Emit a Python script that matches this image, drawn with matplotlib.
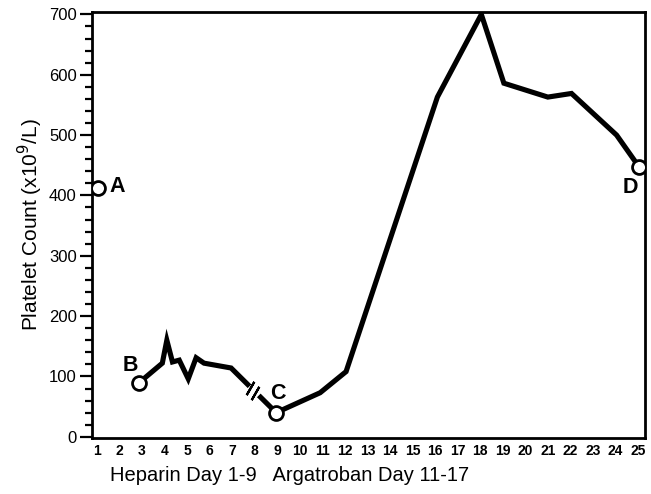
import matplotlib.pyplot as plt
from matplotlib import transforms
from matplotlib.ticker import MultipleLocator

plt.rcParams['font.family'] = ['Liberation Sans', 'DejaVu Sans']

# platelet counts (x10^9/L) by day of admission
dias = [2.85, 3.9, 4.1, 4.35, 4.65, 5.05, 5.4, 5.75, 6.95, 8.95,
        10.9, 12.05, 16.1, 18.05, 19.05, 21.0, 22.05, 24.05, 25.05]
plaquetas = [89, 122, 160, 124, 127, 96, 131, 122, 114, 40,
             73, 108, 563, 700, 586, 563, 569, 500, 447]

# point A (before heparin), not joined to the line
dia_a, plaq_a = 1.05, 412

# labelled time points
rotulos = ['A', 'B', 'C', 'D']
rotulo_dia = [1.05, 2.85, 8.95, 25.05]
rotulo_plaq = [412, 89, 40, 447]

# break in the line between day 7 and day 9
quebra_dia, quebra_plaq = 7.92, 76

fig = plt.figure(figsize=(6.51, 4.94), dpi=100)
ax = fig.add_axes([0.1413, 0.1134, 0.8495, 0.8623])

ax.plot(dias, plaquetas, color='black', lw=3.7, solid_joinstyle='miter', zorder=2)

# break mark: white gap and two slashes
ax.plot([quebra_dia], [quebra_plaq], marker=(2, 2, 45), ms=9, mew=6,
        color='white', zorder=3)
for dx in (-2.5, 2.5):
    tr = transforms.offset_copy(ax.transData, fig=fig, x=dx, y=-dx, units='dots')
    ax.plot([quebra_dia], [quebra_plaq], marker=(2, 2, -30), ms=11, mew=1.6,
            color='black', transform=tr, zorder=4)

ax.plot([dia_a], [plaq_a], 'o', ms=10, mfc='white', mec='black', mew=2, zorder=5)
ax.plot(rotulo_dia[1:], rotulo_plaq[1:], 'o', ls='none', ms=10, mfc='white',
        mec='black', mew=2, zorder=5)

# letter labels next to the circles
desloc = {'A': (14, 1), 'B': (-6, 12.5), 'C': (1, 14), 'D': (-6.5, -15)}
for r, d, p in zip(rotulos, rotulo_dia, rotulo_plaq):
    ox, oy = desloc[r]
    ax.annotate(r, (d, p), xytext=(ox, oy), textcoords='offset points',
                ha='center', va='center', fontsize=15.5, fontweight='bold')

ax.set_xlim(0.78, 25.31)
ax.set_ylim(-2, 704)
ax.set_xticks(range(1, 26))
ax.tick_params(axis='x', length=0, pad=4, labelsize=10)
for t in ax.get_xticklabels():
    t.set_fontweight('bold')
ax.yaxis.set_major_locator(MultipleLocator(100))
ax.yaxis.set_minor_locator(MultipleLocator(20))
ax.tick_params(axis='y', which='major', length=9, width=1.6, labelsize=12, pad=2)
ax.tick_params(axis='y', which='minor', length=5, width=1.6)
for s in ax.spines.values():
    s.set_linewidth(2)

ax.set_ylabel('Platelet Count (x10$^9$/L)', fontsize=15, labelpad=3)
fig.text(110 / 651, 1 - 475 / 494, 'Heparin Day 1-9   Argatroban Day 11-17',
         fontsize=14.5, ha='left', va='center')

fig.savefig('out.png', dpi=100)
